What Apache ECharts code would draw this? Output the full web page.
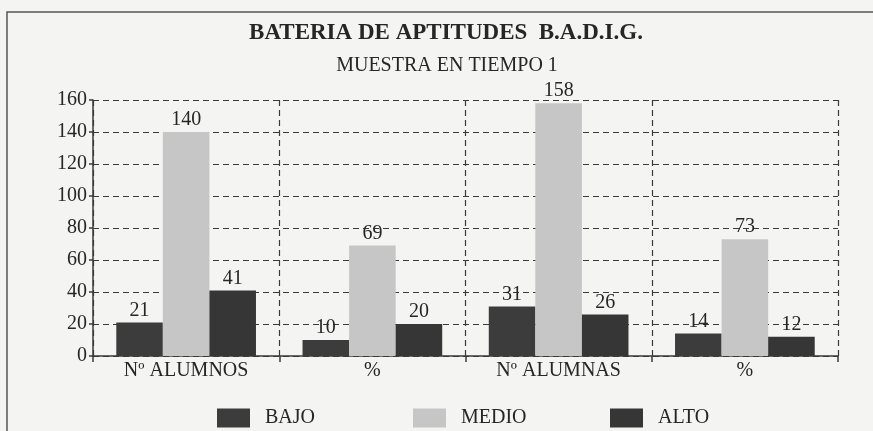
<!DOCTYPE html>
<html>
<head>
    <meta charset="utf-8">
    <script src="https://cdn.jsdelivr.net/npm/echarts@6/dist/echarts.min.js"></script>
</head>
<body style="margin:0;background:#f4f4f2;">
    <div id="main" style="width: 873px;height:431px;"></div>
    <script type="text/javascript">
        // datos
        var categorias = ['Nº ALUMNOS', '%', 'Nº ALUMNAS', '%'];
        var bajo = [21, 10, 31, 14];
        var medio = [140, 69, 158, 73];
        var alto = [41, 20, 26, 12];
        var yMax = 160, yPaso = 20;

        var fuente = '"Liberation Serif", "DejaVu Serif", serif';
        var myChart = echarts.init(document.getElementById('main'));

        var etiqueta = {
            show: true,
            position: 'top',
            distance: 2,
            color: '#262626',
            fontFamily: fuente,
            fontSize: 20
        };

        function leyenda(nombre, x) {
            return {
                data: [{ name: nombre, icon: 'rect' }],
                left: x,
                top: 403,
                itemWidth: 33,
                itemHeight: 19,
                selectedMode: false,
                textStyle: { fontFamily: fuente, fontSize: 20, color: '#262626', padding: [0, 0, 0, 10] }
            };
        }

        var option = {
            backgroundColor: '#f4f4f2',
            textStyle: { fontFamily: fuente },
            title: [{
                text: 'BATERIA DE APTITUDES  B.A.D.I.G.',
                left: 441,
                textAlign: 'center',
                top: 17,
                textStyle: { fontFamily: fuente, fontSize: 23, fontWeight: 'bold', color: '#262626' }
            }, {
                text: 'MUESTRA EN TIEMPO 1',
                left: 442,
                textAlign: 'center',
                top: 51,
                textStyle: { fontFamily: fuente, fontSize: 20, fontWeight: 'normal', color: '#262626' }
            }],
            legend: [leyenda('BAJO', 212), leyenda('MEDIO', 408), leyenda('ALTO', 605)],
            graphic: [{
                type: 'rect',
                shape: { x: 7, y: 12, width: 900, height: 440 },
                style: { fill: 'none', stroke: '#555', lineWidth: 1.5 },
                silent: true
            }],
            grid: { left: 93, right: 35, top: 100, bottom: 75 },
            xAxis: {
                type: 'category',
                data: categorias,
                axisLine: { lineStyle: { color: '#3a3a3a', width: 1.5 } },
                axisTick: { show: true, length: 6, lineStyle: { color: '#3a3a3a', width: 1.5 } },
                axisLabel: { color: '#262626', fontFamily: fuente, fontSize: 20, margin: 5 },
                splitLine: { show: true, lineStyle: { color: '#3a3a3a', type: [6, 4], width: 1.2 } }
            },
            yAxis: {
                type: 'value',
                min: 0,
                max: yMax,
                interval: yPaso,
                axisLine: { show: true, lineStyle: { color: '#3a3a3a', width: 1.5 } },
                axisTick: { show: true, length: 4, lineStyle: { color: '#3a3a3a', width: 1.5 } },
                axisLabel: { color: '#262626', fontFamily: fuente, fontSize: 20, margin: 6 },
                splitLine: { show: true, lineStyle: { color: '#3a3a3a', type: [6, 4], width: 1.2 } }
            },
            series: [{
                name: 'BAJO',
                type: 'bar',
                data: bajo,
                barGap: '0%',
                barCategoryGap: '25%',
                itemStyle: { color: '#3c3c3c' },
                label: etiqueta
            }, {
                name: 'MEDIO',
                type: 'bar',
                data: medio,
                itemStyle: { color: '#c6c6c6' },
                label: etiqueta
            }, {
                name: 'ALTO',
                type: 'bar',
                data: alto,
                itemStyle: { color: '#363636' },
                label: etiqueta
            }]
        };
        myChart.setOption(option);
    </script>
</body>
</html>
